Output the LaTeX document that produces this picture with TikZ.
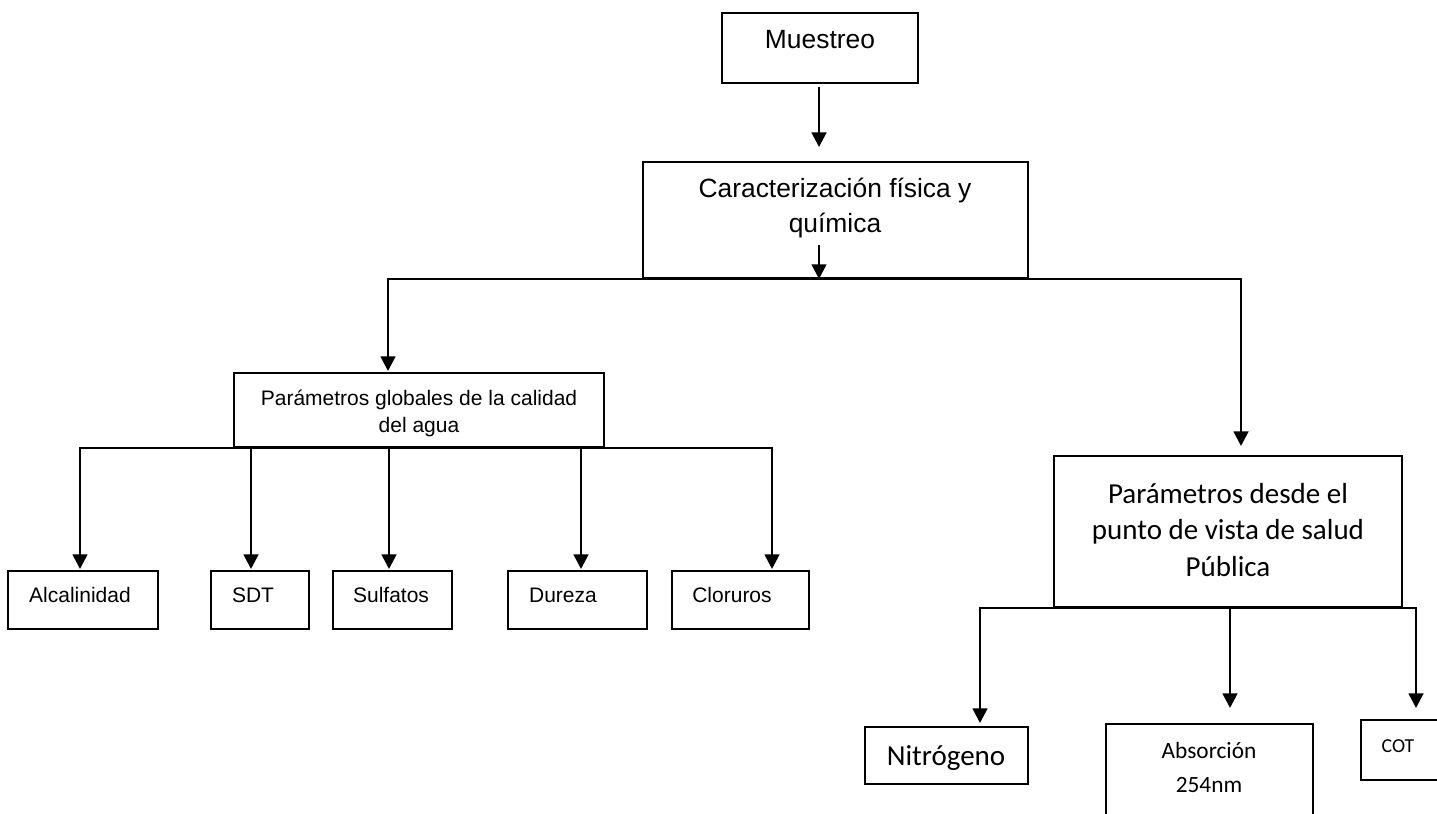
\documentclass[tikz,border=0pt]{standalone}
\usepackage{fontspec}
\setmainfont{Liberation Sans}
\newfontfamily\calib{Carlito}
\usetikzlibrary{arrows.meta,fit}
\tikzset{
  box/.style={draw, line width=1.4pt, inner sep=0pt, rectangle},
  conn/.style={line width=2pt},
  arr/.style={line width=2pt, -{Triangle[length=11pt,width=11pt]}},
  lbl/.style={anchor=base, inner sep=0pt},
  big/.style={lbl, font=\fontsize{19.8pt}{24pt}\selectfont},
  mid/.style={lbl, font=\fontsize{15.75pt}{19pt}\selectfont},
  cbig/.style={lbl, font=\calib\fontsize{21.75pt}{26pt}\selectfont},
  cmid/.style={lbl, font=\calib\fontsize{17.5pt}{21pt}\selectfont},
  csmall/.style={lbl, font=\calib\fontsize{14.85pt}{18pt}\selectfont},
}
\begin{document}
\begin{tikzpicture}[x=0.75pt,y=-0.75pt]
\useasboundingbox (0,0) rectangle (1437,813);
% boxes
\node[box, fit={(722,13) (918,83)}] (m) {};
\node[box, fit={(643,162) (1028,278)}] (c) {};
\node[box, fit={(234,373) (604,447)}] (pg) {};
\node[box, fit={(8,571) (158,629)}] (b1) {};
\node[box, fit={(211,571) (309,629)}] (b2) {};
\node[box, fit={(333,571) (452,629)}] (b3) {};
\node[box, fit={(508,571) (647,629)}] (b4) {};
\node[box, fit={(672,571) (809,629)}] (b5) {};
\node[box, fit={(1054,456) (1402,607)}] (ps) {};
\node[box, fit={(865,727) (1028,784)}] (n1) {};
\node[box, fit={(1106,724) (1313,850)}] (n2) {};
\node[box, fit={(1361,720) (1470,780)}] (n3) {};
% texts
\node[big] (tm) at (820,49) {Muestreo};
\node[big] (tc1) at (835,197) {Caracterización física y};
\node[big] (tc2) at (835,232) {química};
\node[mid] (tp1) at (419,405) {Parámetros globales de la calidad};
\node[mid] (tp2) at (419,432) {del agua};
\node[mid] (t1) at (80,602) {Alcalinidad};
\node[mid] (t2) at (253,602) {SDT};
\node[mid] (t3) at (391,602) {Sulfatos};
\node[mid] (t4) at (563,602) {Dureza};
\node[mid] (t5) at (732,602) {Cloruros};
\node[cbig] (ts1) at (1228,503) {Parámetros desde el};
\node[cbig] (ts2) at (1228,539) {punto de vista de salud};
\node[cbig] (ts3) at (1228,576) {Pública};
\node[cbig] (tn1) at (946,765) {Nitrógeno};
\node[cmid] (tn2a) at (1209,758) {Absorción};
\node[cmid] (tn2b) at (1209,792) {254nm};
\node[csmall] (tn3) at (1398,752) {COT};
% coordinates
\coordinate (ci) at (819,245);
\coordinate (jl) at (388,373);
\coordinate (jr) at (1241,456);
\coordinate (a1) at (80,571);
\coordinate (a2) at (251,571);
\coordinate (a3) at (389,571);
\coordinate (a4) at (581,571);
\coordinate (a5) at (772,571);
\coordinate (r1) at (980,727);
\coordinate (r2) at (1230,724);
\coordinate (r3) at (1416,720);
% connectors
\draw[arr, shorten <=2pt, shorten >=10.5pt] (m.south -| ci) -- (c.north -| ci);
\draw[arr] (ci) -- (ci |- c.south);
\draw[arr, shorten >=1.5pt] (c.south) -| (jl);
\draw[arr, shorten >=7.5pt] (c.south) -| (jr);
\foreach \t in {a1,a2,a3,a4,a5} \draw[arr, shorten >=1.5pt] (pg.south) -| (\t);
\draw[arr, shorten >=3pt] (ps.south) -| (r1);
\draw[arr, shorten >=12pt] (ps.south) -| (r2);
\draw[arr, shorten >=9pt] (ps.south) -| (r3);
\end{tikzpicture}
\end{document}
